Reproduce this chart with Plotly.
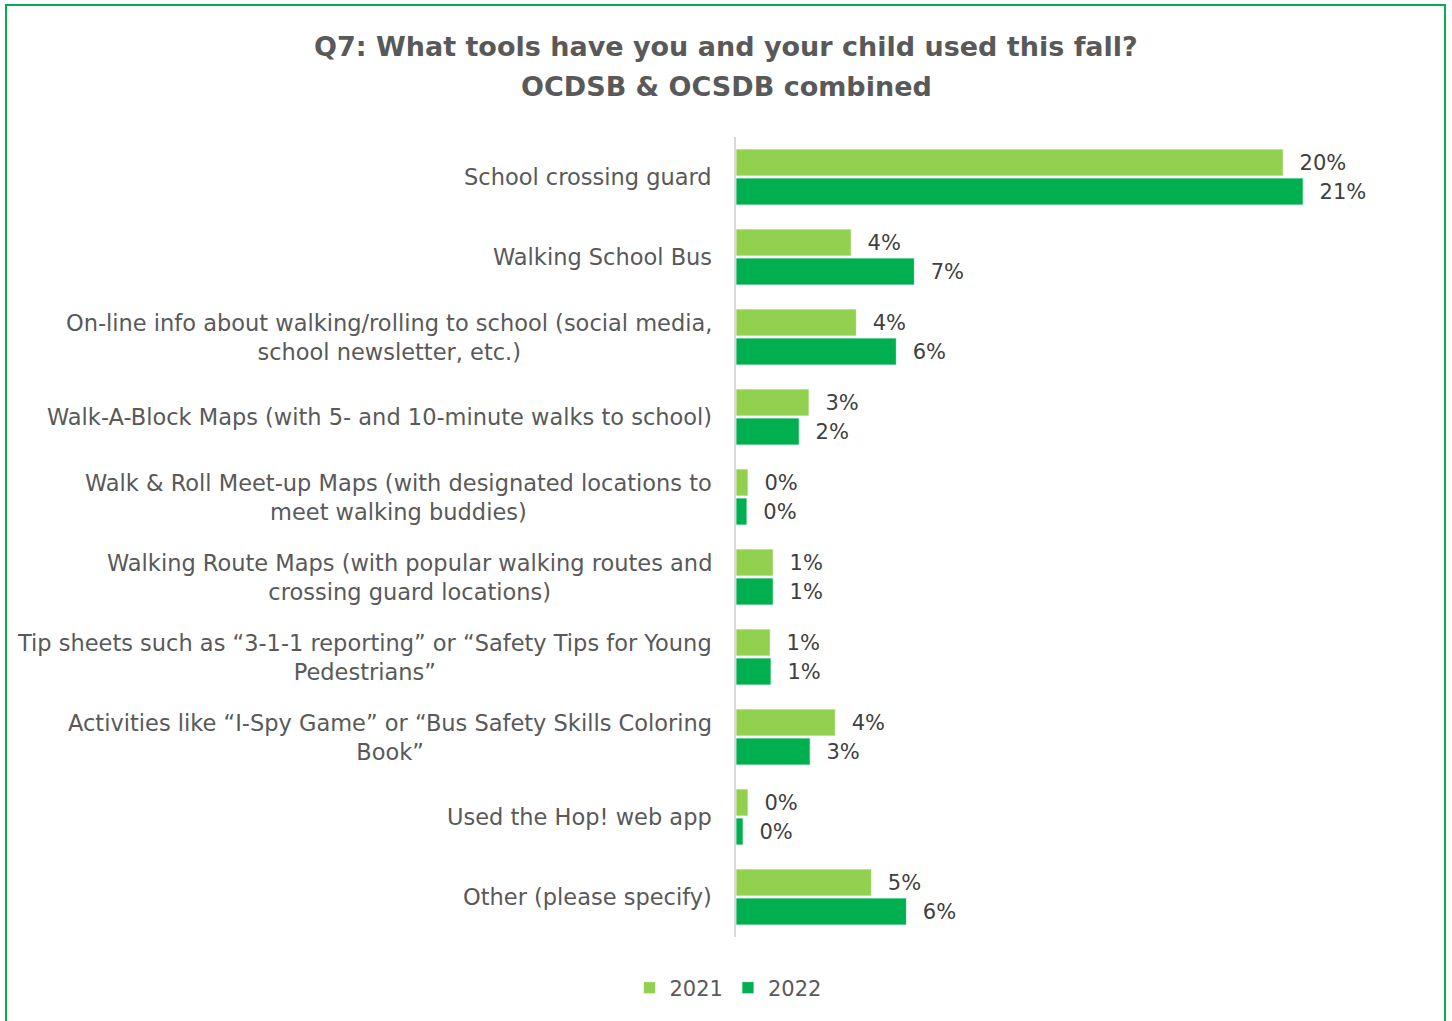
import plotly.graph_objects as go

# Survey responses (% of respondents), top-to-bottom display order
categories = [
    "School crossing guard",
    "Walking School Bus",
    "On-line info about walking/rolling to school (social media,<br>school newsletter, etc.)",
    "Walk-A-Block Maps (with 5- and 10-minute walks to school)",
    "Walk & Roll Meet-up Maps (with designated locations to<br>meet walking buddies)",
    "Walking Route Maps (with popular walking routes and<br>crossing guard locations)",
    "Tip sheets such as “3-1-1 reporting” or “Safety Tips for Young<br>Pedestrians”",
    "Activities like “I-Spy Game” or “Bus Safety Skills Coloring<br>Book”",
    "Used the Hop! web app",
    "Other (please specify)",
]
values_2021 = [20.0, 4.21, 4.40, 2.67, 0.44, 1.36, 1.25, 3.63, 0.44, 4.95]
values_2022 = [20.73, 6.52, 5.86, 2.31, 0.40, 1.36, 1.28, 2.71, 0.26, 6.23]
series_names = ["2021", "2022"]
title_lines = ["Q7: What tools have you and your child used this fall?",
               "OCDSB & OCSDB combined"]

COL_2021 = "#92D050"
COL_2022 = "#00B050"
TEXT = "#595959"
FONT = "DejaVu Sans"

W, H = 1452, 1021
L, R, T, B = 736, 32, 137, 84
pw, ph = W - L - R, H - T - B


def px_x(p):
    """Pixel column -> paper x."""
    return (p - L) / pw


def px_y(p):
    """Pixel row (from top) -> paper y."""
    return (H - B - p) / ph


fig = go.Figure()
for name, vals, col in [(series_names[0], values_2021, COL_2021),
                        (series_names[1], values_2022, COL_2022)]:
    fig.add_trace(go.Bar(
        y=categories,
        x=vals,
        name=name,
        orientation="h",
        marker=dict(color=col, line=dict(color="rgba(255,255,255,0.7)", width=1)),
        texttemplate="\u00a0\u00a0%{x:.0f}%",
        textposition="outside",
        outsidetextfont=dict(family=FONT, size=21, color="#404040"),
        cliponaxis=False,
        hoverinfo="skip",
    ))

# Category labels drawn as centred multi-line annotations left of the axis
for cat in categories:
    fig.add_annotation(
        x=0, xref="paper", y=cat, yref="y",
        text=cat, showarrow=False,
        xanchor="right", yanchor="middle", align="center",
        xshift=-22,
        font=dict(family=FONT, size=22.5, color=TEXT),
    )

# Two-line bold title
for line, row in zip(title_lines, [47, 86]):
    fig.add_annotation(
        x=px_x(726), xref="paper", y=px_y(row), yref="paper",
        text=f"<b>{line}</b>", showarrow=False,
        xanchor="center", yanchor="middle",
        font=dict(family=FONT, size=27, color=TEXT),
    )

# Outer green frame around the whole chart
fig.add_shape(
    type="rect", xref="paper", yref="paper", layer="above",
    x0=px_x(6), x1=px_x(1445),
    y0=px_y(1040), y1=px_y(5),
    line=dict(color=COL_2022, width=2), fillcolor="rgba(0,0,0,0)",
)

fig.update_layout(
    width=W, height=H,
    margin=dict(l=L, r=R, t=T, b=B),
    paper_bgcolor="white", plot_bgcolor="white",
    barmode="group", bargap=0.275, bargroupgap=0.07,
    xaxis=dict(range=[0, 25], visible=False, fixedrange=True),
    yaxis=dict(
        autorange="reversed", showticklabels=False, showgrid=False,
        showline=True, linecolor="#D9D9D9", linewidth=2, ticks="",
        zeroline=False,
    ),
    legend=dict(
        orientation="h", x=px_x(728), xanchor="center",
        y=px_y(988), yanchor="middle",
        font=dict(family=FONT, size=21, color=TEXT),
        itemwidth=30, traceorder="normal",
    ),
    showlegend=True,
)

fig.write_html("out.html")
